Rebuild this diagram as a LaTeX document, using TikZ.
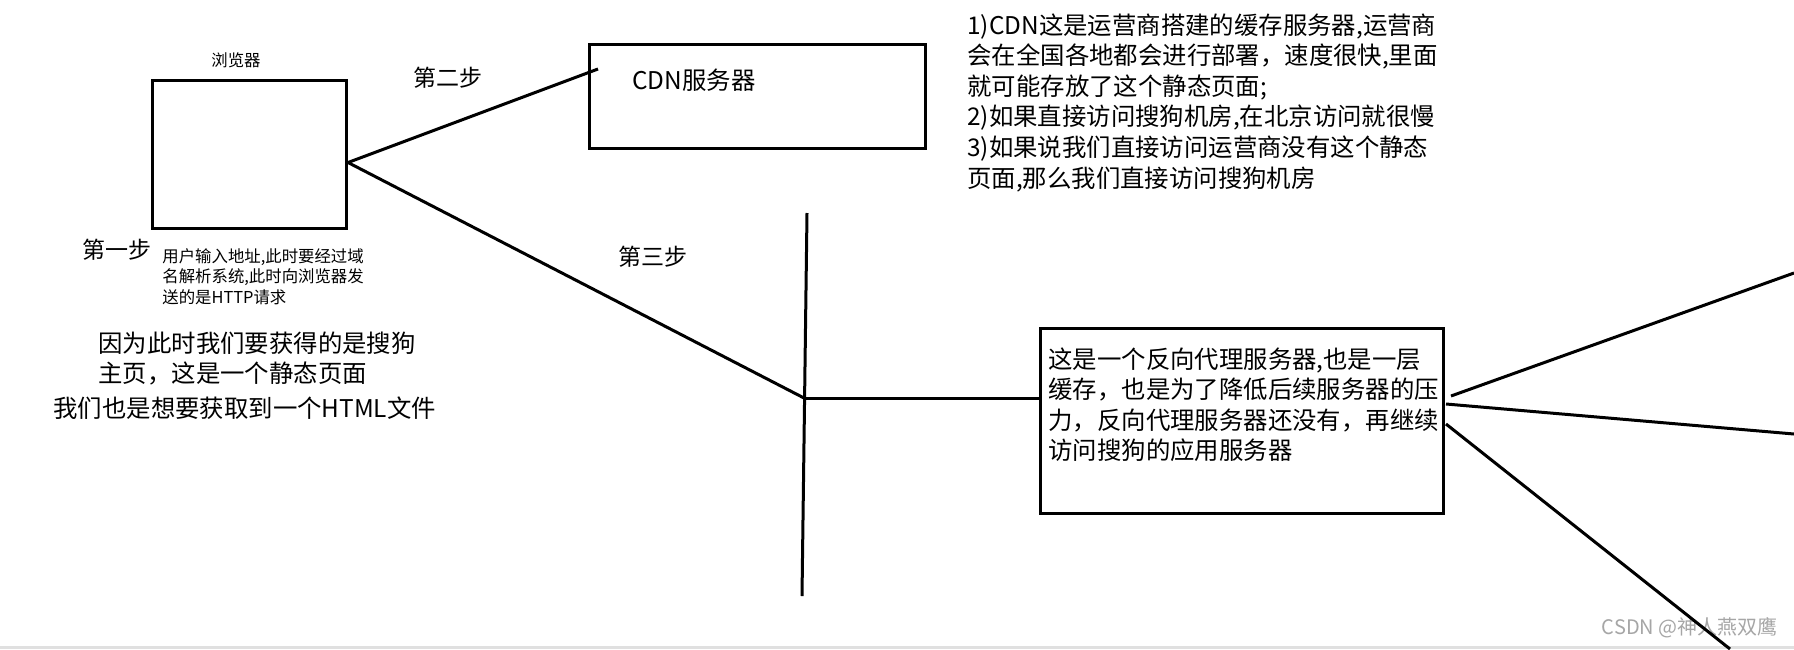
\documentclass[tikz,border=0pt]{standalone}
\usepackage{fontspec}
\setmainfont{Noto Sans CJK SC}
\usetikzlibrary{calc}
\begin{document}
\begin{tikzpicture}[x=0.5pt,y=-0.5pt,
  frame/.style={draw, line width=1.5pt, inner sep=0, anchor=north west},
  conn/.style={line width=1.5pt},
  bigtxt/.style={font=\fontsize{12.2pt}{15.3pt}\selectfont, inner sep=0, align=left},
  steplbl/.style={font=\fontsize{11.5pt}{14pt}\selectfont, inner sep=0, anchor=west},
  smalltxt/.style={font=\fontsize{8.2pt}{10.25pt}\selectfont, inner sep=0, align=left}]
\useasboundingbox (0,0) rectangle (1794,649);
\fill[white] (0,0) rectangle (1794,649);
\fill[black!12] (0,646) rectangle (1794,649);

% boxes
\node[frame, minimum width=97pt, minimum height=74pt] (browser) at (151,79) {};
\node[frame, minimum width=168pt, minimum height=52pt] (cdn) at (588,43) {};
\node[frame, minimum width=201.5pt, minimum height=92.5pt] (proxy) at (1039,327) {};

% labels
\node[smalltxt, anchor=center] (blabel) at (236,60) {浏览器};
\node[bigtxt, anchor=west] (cdntxt) at (632,80) {CDN服务器};
\node[steplbl] (s1) at (82,250) {第一步};
\node[steplbl] (s2) at (413,78) {第二步};
\node[steplbl] (s3) at (618,257) {第三步};
\node[smalltxt, anchor=north west] (s1desc) at (162,248) {用户输入地址,此时要经过域\\名解析系统,此时向浏览器发\\送的是HTTP请求};
\node[bigtxt, anchor=north west] (why) at (98,331) {因为此时我们要获得的是搜狗\\主页，这是一个静态页面};
\node[bigtxt, anchor=west] (html) at (53,408) {我们也是想要获取到一个HTML文件};
\node[bigtxt, anchor=north west] (notes) at (967,13) {1)CDN这是运营商搭建的缓存服务器,运营商\\会在全国各地都会进行部署，速度很快,里面\\就可能存放了这个静态页面;\\2)如果直接访问搜狗机房,在北京访问就很慢\\3)如果说我们直接访问运营商没有这个静态\\页面,那么我们直接访问搜狗机房};
\node[bigtxt, anchor=north west] (proxytxt) at (1048,347) {这是一个反向代理服务器,也是一层\\缓存，也是为了降低后续服务器的压\\力，反向代理服务器还没有，再继续\\访问搜狗的应用服务器};
\node[font=\fontsize{10pt}{12pt}\selectfont, text=black!35, inner sep=0, anchor=east] (wm) at (1778,628) {CSDN @神人燕双鹰};

% coordinates
\coordinate (cdnin) at (598,69);
\coordinate (j) at (804,398);
\coordinate (vtop) at (807,213);
\coordinate (vbot) at (802,596);
\coordinate (e1) at (1794,273);
\coordinate (e2) at (1794,434);
\coordinate (e3) at (1730,649);

% connectors
\draw[conn] ([yshift=-4pt]browser.east) -- (cdnin);
\draw[conn] ([yshift=-4pt]browser.east) -- (j);
\draw[conn] (vtop) -- (vbot);
\draw[conn] (j) -- (j -| proxy.west);
\draw[conn] ([xshift=3pt,yshift=12.5pt]proxy.east) -- (e1);
\draw[conn] ([xshift=0.5pt,yshift=8.5pt]proxy.east) -- (e2);
\draw[conn] ([xshift=0.5pt,yshift=-1.5pt]proxy.east) -- (e3);
\end{tikzpicture}
\end{document}
